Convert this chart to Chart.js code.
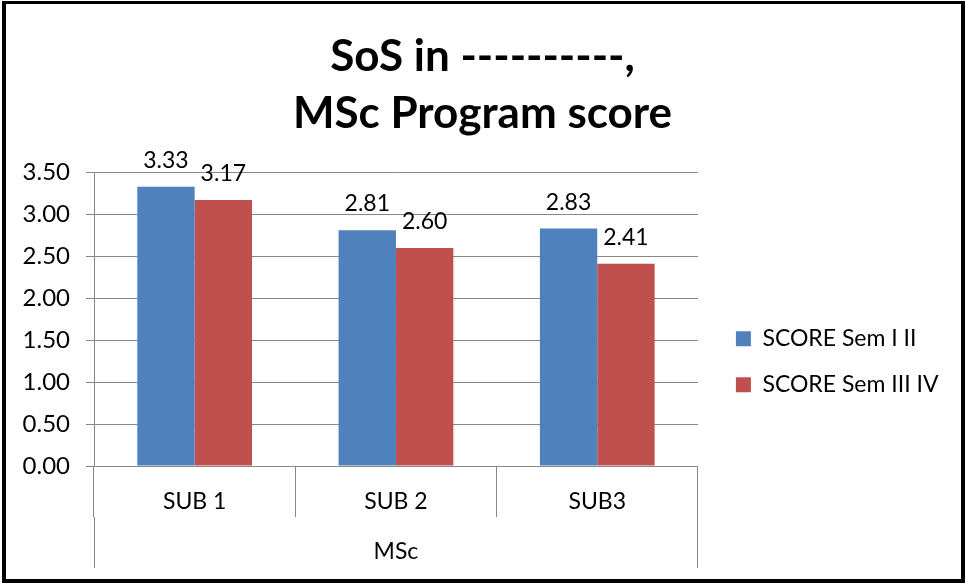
<!DOCTYPE html>
<html>
<head>
<meta charset="utf-8">
<script src="https://cdn.jsdelivr.net/npm/chart.js@4.4.1/dist/chart.umd.min.js"></script>
<style>
  html,body{margin:0;padding:0;background:#fff;}
  #wrap{position:relative;width:965px;height:583px;}
  #frame{position:absolute;left:2px;top:1px;right:0px;bottom:0px;border:4px solid #000;border-top-width:3px;pointer-events:none;box-sizing:border-box;}
</style>
</head>
<body>
<div id="wrap">
<canvas id="c" width="965" height="583"></canvas>
<div id="frame"></div>
</div>
<script>
const titleLines = ['SoS in ----------,', 'MSc Program score'];
const categories = ['SUB 1', 'SUB 2', 'SUB3'];
const groupLabel = 'MSc';
const seriesNames = ['SCORE Sem I II', 'SCORE Sem III IV'];
const semIII = [3.33, 2.81, 2.83];
const semIIIIV = [3.17, 2.60, 2.41];
const yTicks = [0, 0.5, 1, 1.5, 2, 2.5, 3, 3.5];

const FONT = 'Lato, "Open Sans", sans-serif';
const GRID = '#878787';
const PAD = 16.5;

const dataLabels = {
  id: 'dataLabels',
  afterDatasetsDraw(chart) {
    const ctx = chart.ctx;
    ctx.save();
    ctx.font = '23px ' + FONT;
    ctx.fillStyle = '#000';
    ctx.textAlign = 'center';
    ctx.textBaseline = 'alphabetic';
    chart.data.datasets.forEach((ds, i) => {
      chart.getDatasetMeta(i).data.forEach((bar, j) => {
        ctx.fillText(ds.data[j].toFixed(2), bar.x, bar.y - 19);
      });
    });
    ctx.restore();
  }
};

const groupAxis = {
  id: 'groupAxis',
  afterDraw(chart) {
    const ctx = chart.ctx;
    const xs = chart.scales.x;
    const top = chart.chartArea.bottom + 51;
    ctx.save();
    ctx.strokeStyle = GRID;
    ctx.lineWidth = 1;
    ctx.beginPath();
    ctx.moveTo(Math.round(xs.left) + 0.5, top);
    ctx.lineTo(Math.round(xs.left) + 0.5, top + 51);
    ctx.moveTo(Math.round(xs.right) - 0.5, top);
    ctx.lineTo(Math.round(xs.right) - 0.5, top + 51);
    ctx.stroke();
    ctx.font = '23px ' + FONT;
    ctx.fillStyle = '#000';
    ctx.textAlign = 'center';
    ctx.textBaseline = 'middle';
    ctx.fillText(groupLabel, (xs.left + xs.right) / 2, top + 35);
    ctx.restore();
  }
};

function build() {
  new Chart(document.getElementById('c'), {
    type: 'bar',
    data: {
      labels: categories,
      datasets: [
        { label: seriesNames[0], data: semIII, backgroundColor: '#4F81BD' },
        { label: seriesNames[1], data: semIIIIV, backgroundColor: '#C0504D' }
      ]
    },
    options: {
      responsive: false,
      animation: false,
      devicePixelRatio: 1,
      categoryPercentage: 0.57,
      barPercentage: 1,
      layout: { padding: { top: 28, left: PAD, right: PAD, bottom: 0 } },
      plugins: {
        title: {
          display: true,
          text: titleLines,
          color: '#000',
          font: { family: FONT, size: 44, weight: 'bold', lineHeight: 1.3 },
          padding: { top: 0, bottom: 30 }
        },
        legend: {
          position: 'right',
          maxWidth: 400,
          title: { display: true, text: '', font: { size: 12 }, padding: { top: 98, bottom: 0 } },
          labels: {
            color: '#000',
            font: { family: FONT, size: 23 },
            boxWidth: 15,
            boxHeight: 15,
            padding: 23
          }
        },
        tooltip: { enabled: false }
      },
      scales: {
        x: {
          grid: { offset: true, drawOnChartArea: false, tickLength: 51, color: GRID },
          border: { color: GRID },
          ticks: { color: '#000', font: { family: FONT, size: 23 }, padding: -29 },
          afterFit(s) { s.height = 117; }
        },
        y: {
          min: 0, max: 3.5,
          afterBuildTicks(s) { s.ticks = yTicks.map(v => ({ value: v })); },
          grid: { color: GRID, tickLength: 8 },
          border: { color: GRID },
          ticks: {
            color: '#000', font: { family: FONT, size: 24 }, padding: 16,
            callback: v => Number(v).toFixed(2)
          },
          afterFit(s) { s.width = 94 - PAD; }
        },
        yR: {
          position: 'right',
          display: true,
          grid: { display: false },
          border: { display: false },
          ticks: { display: false },
          afterFit(s) { s.width = 15; }
        }
      }
    },
    plugins: [dataLabels, groupAxis]
  });
}

Promise.all([
  document.fonts.load('20px Lato'),
  document.fonts.load('bold 44px Lato')
]).then(build, build);
</script>
</body>
</html>
